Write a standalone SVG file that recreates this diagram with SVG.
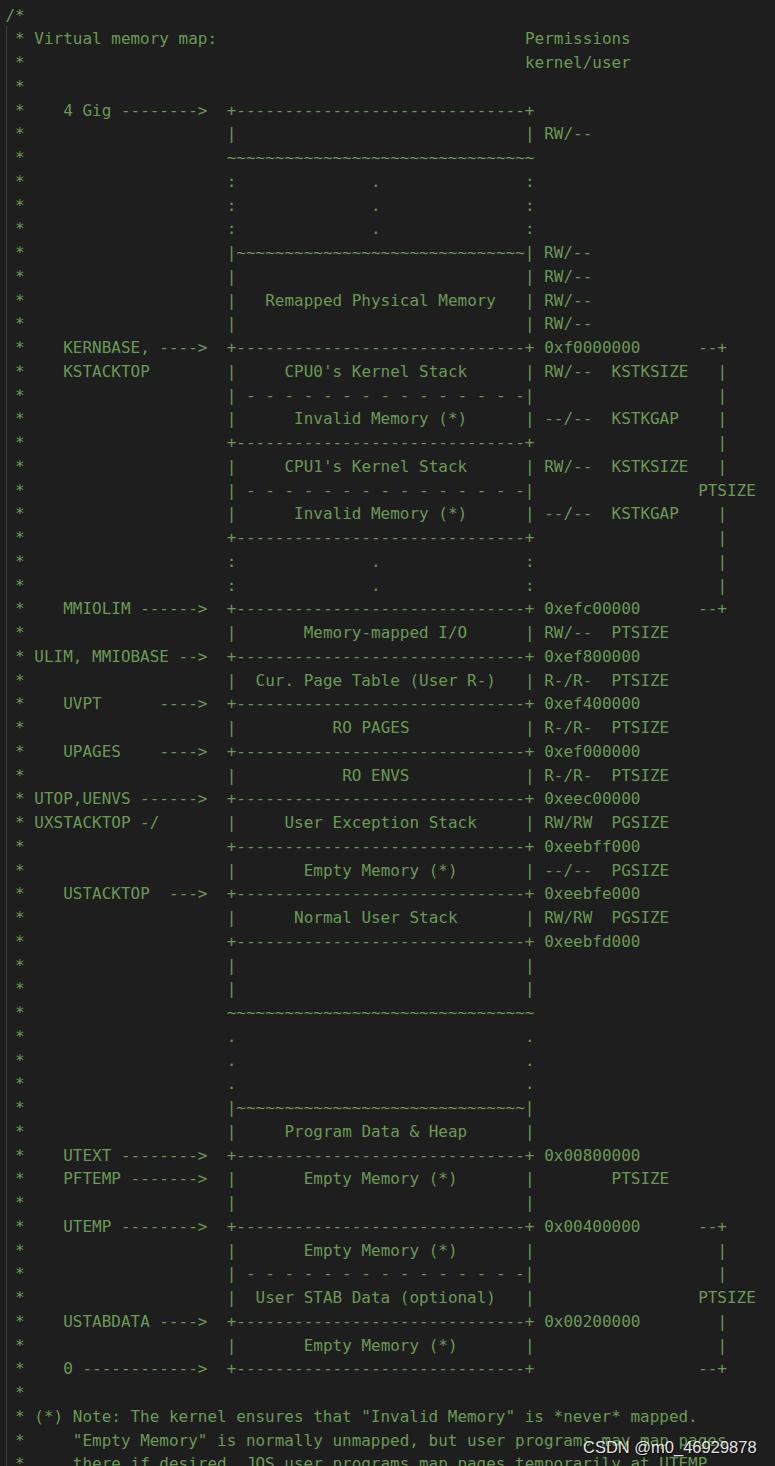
<svg xmlns="http://www.w3.org/2000/svg" width="775" height="1466" viewBox="0 0 775 1466">
<style>
.t{font-family:"DejaVu Sans Mono","Liberation Mono",monospace;font-size:15.98px;fill:#6a9955;white-space:pre}
.wm{font-family:"Liberation Sans","Noto Sans",sans-serif;font-size:16.5px;white-space:pre}
</style>
<rect x="0" y="0" width="775" height="1466" fill="#1e1e1e"/>
<line x1="6.5" y1="26" x2="6.5" y2="1466" stroke="#404040" stroke-width="1"/>
<g id="listing" class="t" xml:space="preserve">
<text y="20.55"><tspan x="5.5">/*</tspan></text>
<text y="44.3"><tspan x="15.12">*</tspan><tspan x="34.36">Virtual memory map:</tspan><tspan x="524.98">Permissions</tspan></text>
<text y="68.05"><tspan x="15.12">*</tspan><tspan x="524.98">kernel/user</tspan></text>
<text y="91.8"><tspan x="15.12">*</tspan></text>
<text y="115.55"><tspan x="15.12">*</tspan><tspan x="63.22">4 Gig --------&gt;</tspan><tspan x="226.76">+------------------------------+</tspan></text>
<text y="139.3"><tspan x="15.12">*</tspan><tspan x="226.76">|</tspan><tspan x="524.98">| RW/--</tspan></text>
<text y="163.05"><tspan x="15.12">*</tspan><tspan x="226.76">~~~~~~~~~~~~~~~~~~~~~~~~~~~~~~~~</tspan></text>
<text y="186.8"><tspan x="15.12">*</tspan><tspan x="226.76">:</tspan><tspan x="371.06">.</tspan><tspan x="524.98">:</tspan></text>
<text y="210.55"><tspan x="15.12">*</tspan><tspan x="226.76">:</tspan><tspan x="371.06">.</tspan><tspan x="524.98">:</tspan></text>
<text y="234.3"><tspan x="15.12">*</tspan><tspan x="226.76">:</tspan><tspan x="371.06">.</tspan><tspan x="524.98">:</tspan></text>
<text y="258.05"><tspan x="15.12">*</tspan><tspan x="226.76">|~~~~~~~~~~~~~~~~~~~~~~~~~~~~~~| RW/--</tspan></text>
<text y="281.8"><tspan x="15.12">*</tspan><tspan x="226.76">|</tspan><tspan x="524.98">| RW/--</tspan></text>
<text y="305.55"><tspan x="15.12">*</tspan><tspan x="226.76">|</tspan><tspan x="265.24">Remapped Physical Memory</tspan><tspan x="524.98">| RW/--</tspan></text>
<text y="329.3"><tspan x="15.12">*</tspan><tspan x="226.76">|</tspan><tspan x="524.98">| RW/--</tspan></text>
<text y="353.05"><tspan x="15.12">*</tspan><tspan x="63.22">KERNBASE, ----&gt;</tspan><tspan x="226.76">+------------------------------+</tspan><tspan x="544.22">0xf0000000</tspan><tspan x="698.14">--+</tspan></text>
<text y="376.8"><tspan x="15.12">*</tspan><tspan x="63.22">KSTACKTOP</tspan><tspan x="226.76">|</tspan><tspan x="284.48">CPU0's Kernel Stack</tspan><tspan x="524.98">| RW/--</tspan><tspan x="611.56">KSTKSIZE</tspan><tspan x="717.38">|</tspan></text>
<text y="400.55"><tspan x="15.12">*</tspan><tspan x="226.76">| - - - - - - - - - - - - - - -|</tspan><tspan x="717.38">|</tspan></text>
<text y="424.3"><tspan x="15.12">*</tspan><tspan x="226.76">|</tspan><tspan x="294.1">Invalid Memory (*)</tspan><tspan x="524.98">| --/--</tspan><tspan x="611.56">KSTKGAP</tspan><tspan x="717.38">|</tspan></text>
<text y="448.05"><tspan x="15.12">*</tspan><tspan x="226.76">+------------------------------+</tspan><tspan x="717.38">|</tspan></text>
<text y="471.8"><tspan x="15.12">*</tspan><tspan x="226.76">|</tspan><tspan x="284.48">CPU1's Kernel Stack</tspan><tspan x="524.98">| RW/--</tspan><tspan x="611.56">KSTKSIZE</tspan><tspan x="717.38">|</tspan></text>
<text y="495.55"><tspan x="15.12">*</tspan><tspan x="226.76">| - - - - - - - - - - - - - - -|</tspan><tspan x="698.14">PTSIZE</tspan></text>
<text y="519.3"><tspan x="15.12">*</tspan><tspan x="226.76">|</tspan><tspan x="294.1">Invalid Memory (*)</tspan><tspan x="524.98">| --/--</tspan><tspan x="611.56">KSTKGAP</tspan><tspan x="717.38">|</tspan></text>
<text y="543.05"><tspan x="15.12">*</tspan><tspan x="226.76">+------------------------------+</tspan><tspan x="717.38">|</tspan></text>
<text y="566.8"><tspan x="15.12">*</tspan><tspan x="226.76">:</tspan><tspan x="371.06">.</tspan><tspan x="524.98">:</tspan><tspan x="717.38">|</tspan></text>
<text y="590.55"><tspan x="15.12">*</tspan><tspan x="226.76">:</tspan><tspan x="371.06">.</tspan><tspan x="524.98">:</tspan><tspan x="717.38">|</tspan></text>
<text y="614.3"><tspan x="15.12">*</tspan><tspan x="63.22">MMIOLIM ------&gt;</tspan><tspan x="226.76">+------------------------------+</tspan><tspan x="544.22">0xefc00000</tspan><tspan x="698.14">--+</tspan></text>
<text y="638.05"><tspan x="15.12">*</tspan><tspan x="226.76">|</tspan><tspan x="303.72">Memory-mapped I/O</tspan><tspan x="524.98">| RW/--</tspan><tspan x="611.56">PTSIZE</tspan></text>
<text y="661.8"><tspan x="15.12">*</tspan><tspan x="34.36">ULIM, MMIOBASE --&gt;</tspan><tspan x="226.76">+------------------------------+</tspan><tspan x="544.22">0xef800000</tspan></text>
<text y="685.55"><tspan x="15.12">*</tspan><tspan x="226.76">|</tspan><tspan x="255.62">Cur. Page Table (User R-)</tspan><tspan x="524.98">| R-/R-</tspan><tspan x="611.56">PTSIZE</tspan></text>
<text y="709.3"><tspan x="15.12">*</tspan><tspan x="63.22">UVPT</tspan><tspan x="159.42">----&gt;</tspan><tspan x="226.76">+------------------------------+</tspan><tspan x="544.22">0xef400000</tspan></text>
<text y="733.05"><tspan x="15.12">*</tspan><tspan x="226.76">|</tspan><tspan x="332.58">RO PAGES</tspan><tspan x="524.98">| R-/R-</tspan><tspan x="611.56">PTSIZE</tspan></text>
<text y="756.8"><tspan x="15.12">*</tspan><tspan x="63.22">UPAGES</tspan><tspan x="159.42">----&gt;</tspan><tspan x="226.76">+------------------------------+</tspan><tspan x="544.22">0xef000000</tspan></text>
<text y="780.55"><tspan x="15.12">*</tspan><tspan x="226.76">|</tspan><tspan x="342.2">RO ENVS</tspan><tspan x="524.98">| R-/R-</tspan><tspan x="611.56">PTSIZE</tspan></text>
<text y="804.3"><tspan x="15.12">*</tspan><tspan x="34.36">UTOP,UENVS ------&gt;</tspan><tspan x="226.76">+------------------------------+</tspan><tspan x="544.22">0xeec00000</tspan></text>
<text y="828.05"><tspan x="15.12">*</tspan><tspan x="34.36">UXSTACKTOP -/</tspan><tspan x="226.76">|</tspan><tspan x="284.48">User Exception Stack</tspan><tspan x="524.98">| RW/RW</tspan><tspan x="611.56">PGSIZE</tspan></text>
<text y="851.8"><tspan x="15.12">*</tspan><tspan x="226.76">+------------------------------+</tspan><tspan x="544.22">0xeebff000</tspan></text>
<text y="875.55"><tspan x="15.12">*</tspan><tspan x="226.76">|</tspan><tspan x="303.72">Empty Memory (*)</tspan><tspan x="524.98">| --/--</tspan><tspan x="611.56">PGSIZE</tspan></text>
<text y="899.3"><tspan x="15.12">*</tspan><tspan x="63.22">USTACKTOP</tspan><tspan x="169.04">---&gt;</tspan><tspan x="226.76">+------------------------------+</tspan><tspan x="544.22">0xeebfe000</tspan></text>
<text y="923.05"><tspan x="15.12">*</tspan><tspan x="226.76">|</tspan><tspan x="294.1">Normal User Stack</tspan><tspan x="524.98">| RW/RW</tspan><tspan x="611.56">PGSIZE</tspan></text>
<text y="946.8"><tspan x="15.12">*</tspan><tspan x="226.76">+------------------------------+</tspan><tspan x="544.22">0xeebfd000</tspan></text>
<text y="970.55"><tspan x="15.12">*</tspan><tspan x="226.76">|</tspan><tspan x="524.98">|</tspan></text>
<text y="994.3"><tspan x="15.12">*</tspan><tspan x="226.76">|</tspan><tspan x="524.98">|</tspan></text>
<text y="1018.05"><tspan x="15.12">*</tspan><tspan x="226.76">~~~~~~~~~~~~~~~~~~~~~~~~~~~~~~~~</tspan></text>
<text y="1041.8"><tspan x="15.12">*</tspan><tspan x="226.76">.</tspan><tspan x="524.98">.</tspan></text>
<text y="1065.55"><tspan x="15.12">*</tspan><tspan x="226.76">.</tspan><tspan x="524.98">.</tspan></text>
<text y="1089.3"><tspan x="15.12">*</tspan><tspan x="226.76">.</tspan><tspan x="524.98">.</tspan></text>
<text y="1113.05"><tspan x="15.12">*</tspan><tspan x="226.76">|~~~~~~~~~~~~~~~~~~~~~~~~~~~~~~|</tspan></text>
<text y="1136.8"><tspan x="15.12">*</tspan><tspan x="226.76">|</tspan><tspan x="284.48">Program Data &amp; Heap</tspan><tspan x="524.98">|</tspan></text>
<text y="1160.55"><tspan x="15.12">*</tspan><tspan x="63.22">UTEXT --------&gt;</tspan><tspan x="226.76">+------------------------------+</tspan><tspan x="544.22">0x00800000</tspan></text>
<text y="1184.3"><tspan x="15.12">*</tspan><tspan x="63.22">PFTEMP -------&gt;</tspan><tspan x="226.76">|</tspan><tspan x="303.72">Empty Memory (*)</tspan><tspan x="524.98">|</tspan><tspan x="611.56">PTSIZE</tspan></text>
<text y="1208.05"><tspan x="15.12">*</tspan><tspan x="226.76">|</tspan><tspan x="524.98">|</tspan></text>
<text y="1231.8"><tspan x="15.12">*</tspan><tspan x="63.22">UTEMP --------&gt;</tspan><tspan x="226.76">+------------------------------+</tspan><tspan x="544.22">0x00400000</tspan><tspan x="698.14">--+</tspan></text>
<text y="1255.55"><tspan x="15.12">*</tspan><tspan x="226.76">|</tspan><tspan x="303.72">Empty Memory (*)</tspan><tspan x="524.98">|</tspan><tspan x="717.38">|</tspan></text>
<text y="1279.3"><tspan x="15.12">*</tspan><tspan x="226.76">| - - - - - - - - - - - - - - -|</tspan><tspan x="717.38">|</tspan></text>
<text y="1303.05"><tspan x="15.12">*</tspan><tspan x="226.76">|</tspan><tspan x="255.62">User STAB Data (optional)</tspan><tspan x="524.98">|</tspan><tspan x="698.14">PTSIZE</tspan></text>
<text y="1326.8"><tspan x="15.12">*</tspan><tspan x="63.22">USTABDATA ----&gt;</tspan><tspan x="226.76">+------------------------------+</tspan><tspan x="544.22">0x00200000</tspan><tspan x="717.38">|</tspan></text>
<text y="1350.55"><tspan x="15.12">*</tspan><tspan x="226.76">|</tspan><tspan x="303.72">Empty Memory (*)</tspan><tspan x="524.98">|</tspan><tspan x="717.38">|</tspan></text>
<text y="1374.3"><tspan x="15.12">*</tspan><tspan x="63.22">0 ------------&gt;</tspan><tspan x="226.76">+------------------------------+</tspan><tspan x="698.14">--+</tspan></text>
<text y="1398.05"><tspan x="15.12">*</tspan></text>
<text y="1421.8"><tspan x="15.12">*</tspan><tspan x="34.36">(*) Note: The kernel ensures that "Invalid Memory" is *never* mapped.</tspan></text>
<text y="1445.55"><tspan x="15.12">*</tspan><tspan x="72.84">"Empty Memory" is normally unmapped, but user programs may map pages</tspan></text>
<text y="1469.3"><tspan x="15.12">*</tspan><tspan x="72.84">there if desired.  JOS user programs map pages temporarily at UTEMP.</tspan></text>
</g>
<g id="watermark">
<text class="wm" x="584" y="1454" fill="#000000" fill-opacity="0.6">CSDN @m0_46929878</text>
<text class="wm" x="583" y="1453" fill="#ffffff" fill-opacity="0.9">CSDN @m0_46929878</text>
</g>
</svg>
